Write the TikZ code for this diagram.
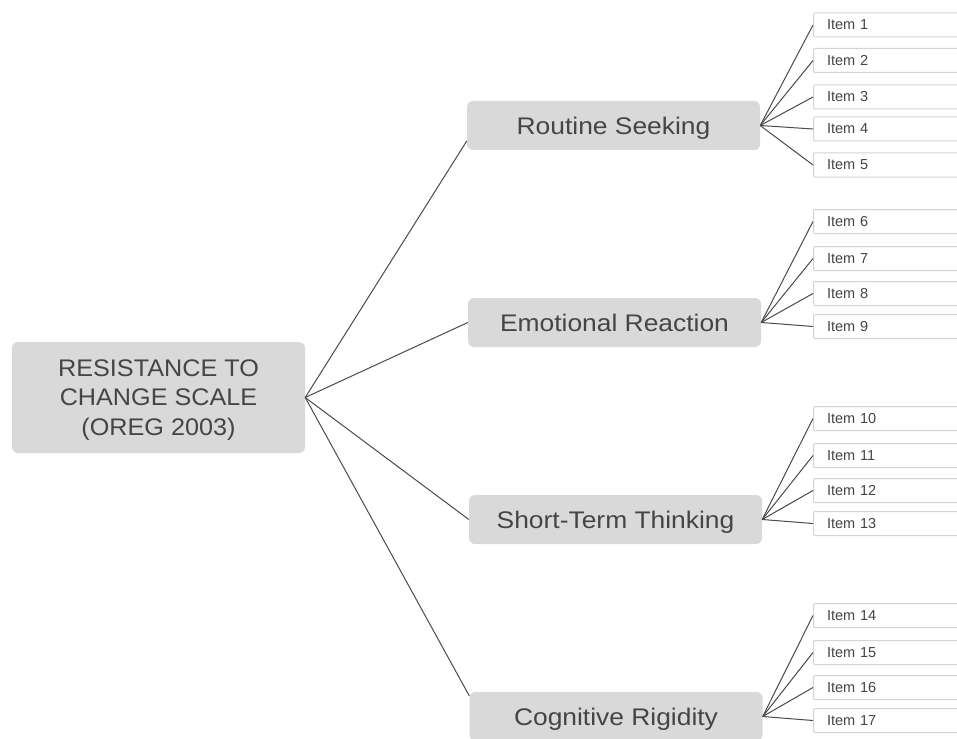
\documentclass[tikz,border=0pt]{standalone}
\usepackage{fontspec}
\setmainfont{Liberation Sans}
\newfontfamily\catfont[FakeStretch=1.1]{Liberation Sans}
\newfontfamily\mainfont[FakeStretch=1.05]{Liberation Sans}
\definecolor{boxgray}{HTML}{D9D9D9}
\definecolor{itemedge}{HTML}{D4D4D4}
\definecolor{txtgray}{HTML}{454545}
\definecolor{linegray}{HTML}{4A4A4A}
\begin{document}
\begin{tikzpicture}[x=1pt,y=-1pt]
\tikzstyle{every node}=[text=txtgray,inner sep=0pt]
\tikzstyle{scale box}=[rectangle,rounded corners=6pt,fill=boxgray,minimum width=293pt,align=center,text depth=0pt]
\tikzstyle{cat box}=[scale box,minimum height=49pt,font=\catfont\fontsize{24}{28}\selectfont]
\tikzstyle{item box}=[rectangle,rounded corners=1pt,draw=itemedge,line width=1pt,fill=white,anchor=west,minimum height=24pt,text width=170pt,inner xsep=13.5pt,align=left,font=\fontsize{14.5}{16}\selectfont]
\tikzstyle{link}=[draw=linegray,line width=1pt]
\useasboundingbox (0,0) rectangle (957,738);
\clip (0,0) rectangle (957,738);
\node[scale box,minimum height=111pt,font=\mainfont\fontsize{24}{29.5}\selectfont](scale) at (158.5,397.5) {RESISTANCE TO\\CHANGE SCALE\\(OREG 2003)};
\node[cat box](rs) at (613.5,125.5) {Routine Seeking};
\node[cat box](er) at (614.5,322.5) {Emotional Reaction};
\node[cat box](st) at (615.5,519.5) {Short-Term Thinking};
\node[cat box](cr) at (616,716.5) {Cognitive Rigidity};
\node[item box](i1) at (813,25) {Item 1};
\node[item box](i2) at (813,60.5) {Item 2};
\node[item box](i3) at (813,97) {Item 3};
\node[item box](i4) at (813,129) {Item 4};
\node[item box](i5) at (813,165) {Item 5};
\node[item box](i6) at (813,221.5) {Item 6};
\node[item box](i7) at (813,258.5) {Item 7};
\node[item box](i8) at (813,293.5) {Item 8};
\node[item box](i9) at (813,326.5) {Item 9};
\node[item box](i10) at (813,418.5) {Item 10};
\node[item box](i11) at (813,455.5) {Item 11};
\node[item box](i12) at (813,490.5) {Item 12};
\node[item box](i13) at (813,523.5) {Item 13};
\node[item box](i14) at (813,615.5) {Item 14};
\node[item box](i15) at (813,652.5) {Item 15};
\node[item box](i16) at (813,687.5) {Item 16};
\node[item box](i17) at (813,720.5) {Item 17};
\draw[link] (scale.east) -- (rs.186);
\draw[link] (scale.east) -- (er.west);
\draw[link] (scale.east) -- (st.west);
\draw[link] (scale.east) -- (cr.172);
\draw[link] (rs.east) -- (i1.west);
\draw[link] (rs.east) -- (i2.west);
\draw[link] (rs.east) -- (i3.west);
\draw[link] (rs.east) -- (i4.west);
\draw[link] (rs.east) -- (i5.west);
\draw[link] (er.east) -- (i6.west);
\draw[link] (er.east) -- (i7.west);
\draw[link] (er.east) -- (i8.west);
\draw[link] (er.east) -- (i9.west);
\draw[link] (st.east) -- (i10.west);
\draw[link] (st.east) -- (i11.west);
\draw[link] (st.east) -- (i12.west);
\draw[link] (st.east) -- (i13.west);
\draw[link] (cr.east) -- (i14.west);
\draw[link] (cr.east) -- (i15.west);
\draw[link] (cr.east) -- (i16.west);
\draw[link] (cr.east) -- (i17.west);
\end{tikzpicture}
\end{document}
